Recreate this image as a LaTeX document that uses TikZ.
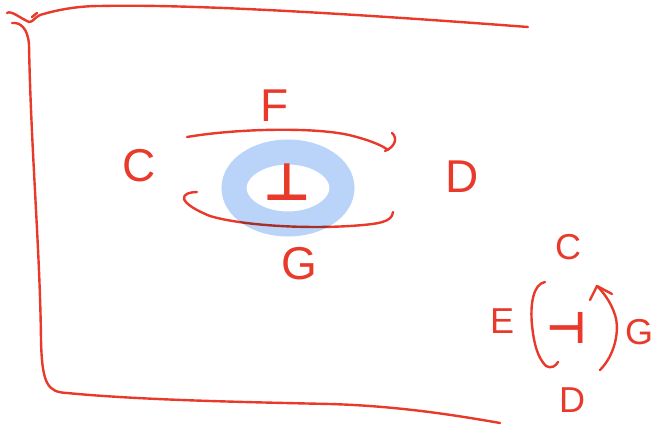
\documentclass[tikz,border=0pt]{standalone}
\usepackage{fontspec}
\setmainfont{Liberation Sans}
\newfontfamily\symfont{DejaVu Sans}
\usetikzlibrary{arrows.meta}
\definecolor{pen}{HTML}{E8392A}
\definecolor{hl}{HTML}{B9D4F8}
\begin{document}
\begin{tikzpicture}[x=1pt,y=-1pt,
  penline/.style={draw=pen, line width=2.4pt, line cap=round, line join=round},
  biglbl/.style={text=pen, inner sep=0pt, font=\fontsize{46}{46}\selectfont},
  smalllbl/.style={text=pen, inner sep=0pt, font=\fontsize{36}{36}\selectfont},
  symlbl/.style={text=pen, inner sep=0pt, font=\symfont\bfseries\fontsize{52}{52}\selectfont}]
\useasboundingbox (0,0) rectangle (655,424);
% frame
\draw[penline] (7,13) .. controls (11,10) and (20,18) .. (29,22)
  .. controls (33,22) and (34,18) .. (40,15)
  .. controls (60,9) and (80,6) .. (100,6)
  .. controls (180,4) and (330,12) .. (528,27);
\draw[penline] (32,17) -- (37,13);
\draw[penline] (12,23) .. controls (20,22) and (28,28) .. (29,45)
  .. controls (31,150) and (40,250) .. (41,340)
  .. controls (42,385) and (48,392) .. (67,393)
  .. controls (140,400) and (240,402) .. (330,404)
  .. controls (400,406) and (460,416) .. (500,423);
% central arcs
\draw[penline] (187,137) .. controls (240,128) and (320,127) .. (353,136)
  .. controls (372,141) and (383,146) .. (388,150);
\draw[penline] (392,133) .. controls (398,138) and (395,147) .. (385,151);
\draw[penline] (393,212) .. controls (392,222) and (380,224) .. (350,226)
  .. controls (300,229) and (240,225) .. (210,216)
  .. controls (195,210) and (186,204) .. (184,199)
  .. controls (183,194) and (190,192) .. (197,192);
% blue highlight ring
\begin{scope}[blend mode=multiply]
\draw[hl, line width=25pt] (288,188) ellipse [x radius=54, y radius=36];
\end{scope}
% central labels
\node[symlbl] (perp) at (287,182) {⊥};
\node[biglbl] (F) at (275,106) {F};
\node[biglbl] (Cl) at (139,166) {C};
\node[biglbl] (Dr) at (462,177) {D};
\node[biglbl] (Gb) at (299,264) {G};
% lower right group
\node[smalllbl] (C2) at (568,247) {C};
\node[smalllbl] (E2) at (502,321) {E};
\node[smalllbl] (G2) at (639,332) {G};
\node[smalllbl] (D2) at (572,400) {D};
\node[symlbl, font=\symfont\bfseries\fontsize{44}{44}\selectfont] (dashv) at (567,328) {⊣};
\draw[penline] (545,282) .. controls (533,284) and (530,305) .. (532,325)
  .. controls (534,345) and (538,358) .. (546,366)
  .. controls (551,369) and (556,366) .. (558,362);
\draw[penline] (600,370) .. controls (615,355) and (620,330) .. (615,315)
  .. controls (611,302) and (603,292) .. (597,286);
\draw[penline] (590,300) -- (597,286) -- (612,294);
\end{tikzpicture}
\end{document}
